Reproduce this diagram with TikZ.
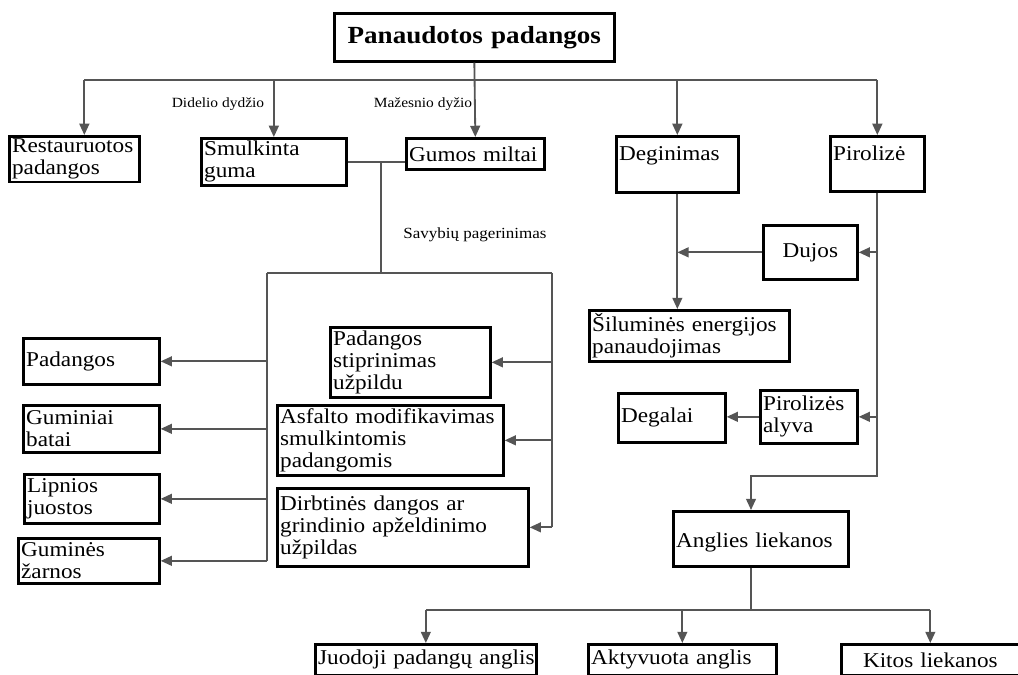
\documentclass[tikz,border=0pt]{standalone}
\usepackage{fontspec}
\setmainfont[FakeStretch=1.1]{Liberation Serif}
\usetikzlibrary{arrows.meta,calc}
\definecolor{linija}{HTML}{555555}

\begin{document}
\begin{tikzpicture}[x=0.025cm, y=-0.025cm,
      bx/.style 2 args={draw, line width=1.9pt, anchor=north west, inner sep=2pt,
                minimum width=#1*0.025cm, minimum height=#2*0.025cm,
                text width=#1*0.025cm-4pt, align=left,
                font=\fontsize{15}{15.5}\selectfont},
      ln/.style={draw=linija, line width=1.3pt},
      arr/.style={ln, -{Triangle[length=8pt,width=7pt]}},
      lbl/.style={font=\fontsize{10}{12}\selectfont}]
    \useasboundingbox (0,0) rectangle (1018,675);
    % virsus
    \node[bx={280}{48}, align=center, font=\fontsize{17.5}{20}\selectfont\bfseries] (virsus) at (333,12) {Panaudotos padangos};
    \node[bx={130}{45}] (restaur) at (8,135)   {Restauruotos\\padangos};
    \node[bx={145}{47}] (smulk)   at (200,137) {Smulkinta\\guma};
    \node[bx={138}{31}] (miltai)  at (405,137) {Gumos miltai};
    \node[bx={122}{56}] (degin)   at (615,135) {Deginimas\\ \mbox{}};
    \node[bx={94}{55}]  (piroliz) at (829,135) {Pirolizė\\ \mbox{}};
    \node[lbl] (didelio)  at (218,104) {Didelio dydžio};
    \node[lbl] (mazesnio) at (423,104) {Mažesnio dyžio};
    % desine puse
    \node[bx={94}{54}, align=center] (dujos) at (762,224) {Dujos};
    \node[bx={200}{51}] (silum)   at (588,309) {Šiluminės energijos\\panaudojimas};
    \node[bx={107}{49}] (degalai) at (617,392) {Degalai};
    \node[bx={97}{53}]  (alyva)   at (759,389) {Pirolizės\\alyva};
    \node[bx={175}{55}] (anglies) at (672,510) {\mbox{}\\Anglies liekanos};
    \node[bx={221}{31}, inner xsep=0.5pt] (juodoji) at (314,643) {\mbox{Juodoji padangų anglis}};
    \node[bx={188}{31}] (aktyv)   at (587,643) {Aktyvuota anglis};
    \node[bx={178}{31}, align=center] (kitos) at (840,643) {Kitos liekanos};
    % kaire puse
    \node[lbl, font=\fontsize{11}{13}\selectfont] (savybiu) at (475,235) {Savybių pagerinimas};
    \node[bx={136}{46}] (padangos) at (22,337) {Padangos};
    \node[bx={136}{47}] (batai)    at (22,404) {Guminiai\\batai};
    \node[bx={135}{49}] (lipnios)  at (23,473) {Lipnios\\juostos};
    \node[bx={141}{45}] (zarnos)   at (17,537) {Guminės\\žarnos};
    \node[bx={160}{70}] (stiprin)  at (329,326) {Padangos\\stiprinimas\\užpildu};
    \node[bx={226}{70}] (asfalt)   at (276,404) {Asfalto modifikavimas\\smulkintomis\\padangomis};
    \node[bx={251}{78}] (dirbtin)  at (276,487) {Dirbtinės dangos ar\\grindinio apželdinimo\\užpildas};

    \coordinate (bus)     at (474,80);
    \coordinate (savyb)   at (381,273);
    \coordinate (kaire)   at (267,273);
    \coordinate (desine)  at (552,273);
    \coordinate (posukis) at (751,476);
    \coordinate (skirst)  at (751,610);

    % medis
    \draw[arr] (virsus.south) -- (miltai.north);
    \draw[ln] ($(restaur.north |- bus)+(10,0)$) -- (piroliz.north |- bus);
    \draw[arr] ($(restaur.north |- bus)+(10,0)$) -- ($(restaur.north)+(10,0)$);
    \foreach \n in {smulk,degin,piroliz}
      \draw[arr] (\n.north |- bus) -- (\n.north);

    % savybiu pagerinimas
    \draw[ln] (smulk.east) -- (smulk.east -| miltai.west);
    \draw[ln] (smulk.east -| savyb) -- (savyb);
    \draw[ln] (kaire) -- (desine);
    \draw[ln] (kaire) -- (kaire |- zarnos.east);
    \foreach \n in {padangos,batai,lipnios,zarnos}
      \draw[arr] (kaire |- \n.east) -- (\n.east);
    \draw[ln] (desine) -- (desine |- dirbtin.east);
    \foreach \n in {stiprin,asfalt,dirbtin}
      \draw[arr] (desine |- \n.east) -- (\n.east);

    % deginimas ir pirolize
    \draw[arr] (degin.south) -- (degin.south |- silum.north);
    \draw[arr] (dujos.west) -- (dujos.west -| degin.south);
    \draw[arr] (piroliz.south) |- (posukis) -- (posukis |- anglies.north);
    \draw[arr] (piroliz.south |- dujos.east) -- (dujos.east);
    \draw[arr] (piroliz.south |- alyva.east) -- (alyva.east);
    \draw[arr] (alyva.west) -- (alyva.west -| degalai.east);

    % anglies liekanos
    \draw[ln] (posukis |- anglies.south) -- (skirst);
    \draw[ln] (juodoji.north |- skirst) -- (kitos.north |- skirst);
    \foreach \n in {juodoji,aktyv,kitos}
      \draw[arr] (\n.north |- skirst) -- (\n.north);
  \end{tikzpicture}
\end{document}
